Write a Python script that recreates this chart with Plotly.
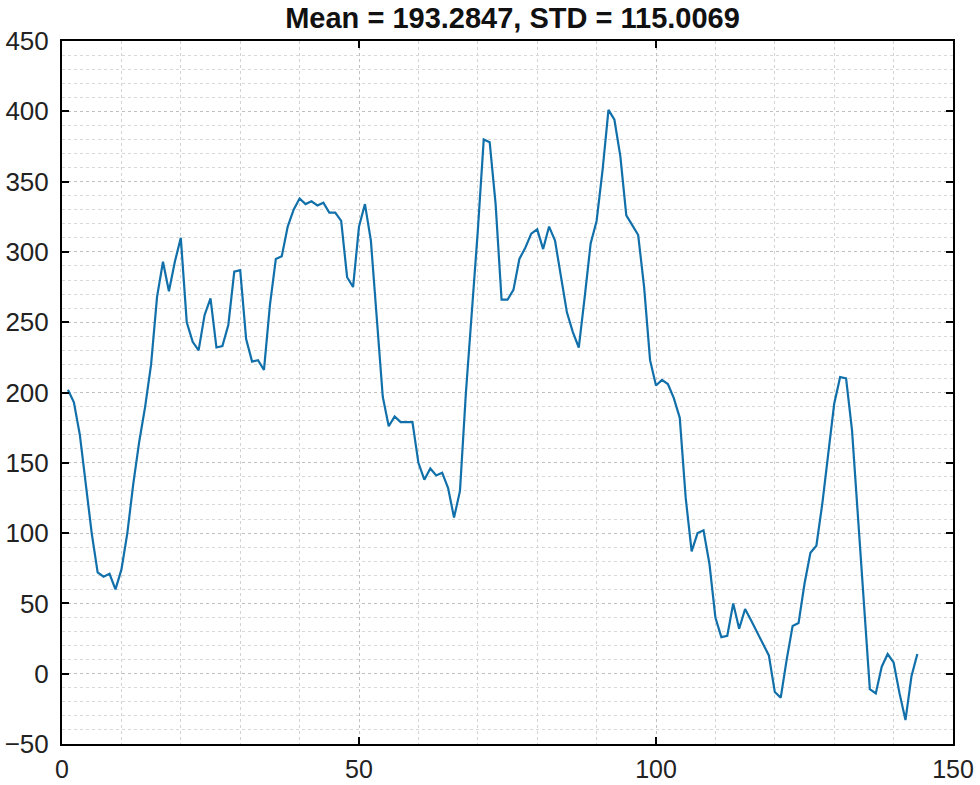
import plotly.graph_objects as go

x_index = list(range(1, 145))
values = [
    202, 193, 170, 135, 100, 72, 69, 71, 60, 74,
    100, 135, 165, 190, 220, 268, 293, 272, 293, 310,
    250, 236, 230, 255, 267, 232, 233, 248, 286, 287,
    238, 222, 223, 216, 262, 295, 297, 318, 330, 338,
    334, 336, 333, 335, 328, 328, 322, 282, 275, 318,
    334, 308, 250, 197, 176, 183, 179, 179, 179, 150,
    138, 146, 141, 143, 132, 111, 130, 200, 255, 315,
    380, 378, 334, 266, 266, 273, 295, 303, 313, 316,
    302, 318, 308, 282, 257, 243, 232, 268, 306, 322,
    358, 401, 394, 368, 326, 319, 312, 275, 223, 205,
    209, 206, 196, 182, 125, 87, 100, 102, 78, 40,
    26, 27, 50, 32, 46, 38, 30, 22, 13, -13,
    -17, 10, 34, 36, 64, 86, 91, 121, 155, 192,
    211, 210, 173, 110, 50, -11, -14, 5, 14, 8,
    -14, -33, -2, 14,
]
title_text = "Mean = 193.2847, STD = 115.0069"
x_ticks = [0, 50, 100, 150]
y_ticks = [-50, 0, 50, 100, 150, 200, 250, 300, 350, 400, 450]

fig = go.Figure()
fig.add_trace(go.Scatter(
    x=x_index, y=values, mode="lines",
    line=dict(color="#1170AA", width=2.2),
    showlegend=False,
))

font_family = "Liberation Sans, Arial, sans-serif"
axis_common = dict(
    showline=True, linecolor="black", linewidth=2, mirror="allticks",
    ticks="inside", ticklen=7, tickwidth=2, tickcolor="black",
    showgrid=True, gridcolor="#c0c0c0", griddash="dot", gridwidth=1,
    zeroline=False, automargin=False,
)

fig.update_xaxes(
    range=[0, 150], tickvals=x_ticks,
    minor=dict(dtick=10, tick0=0, showgrid=True, gridcolor="#d2d2d2", griddash="dot", ticks=""),
    ticklabelstandoff=2,
    tickfont=dict(family=font_family, size=25, color="#222222"),
    **axis_common,
)
fig.update_yaxes(
    range=[-50, 450], tickvals=y_ticks,
    minor=dict(dtick=10, tick0=0, showgrid=True, gridcolor="#d8d8d8", griddash="dot", ticks=""),
    ticklabelstandoff=6,
    tickfont=dict(family=font_family, size=26, color="#222222"),
    **axis_common,
)

fig.update_layout(
    width=980, height=785,
    margin=dict(l=62, r=27, t=41, b=41, autoexpand=False),
    plot_bgcolor="white", paper_bgcolor="white",
    title=dict(
        text="<b>" + title_text + "</b>",
        x=0.523, xanchor="center", y=0.977, yanchor="middle",
        font=dict(family=font_family, size=29, color="#111111"),
    ),
)

fig.write_html(
    "out.html",
    config={"displayModeBar": False},
    post_script="document.body.style.margin='0';document.body.style.overflow='hidden';",
)
